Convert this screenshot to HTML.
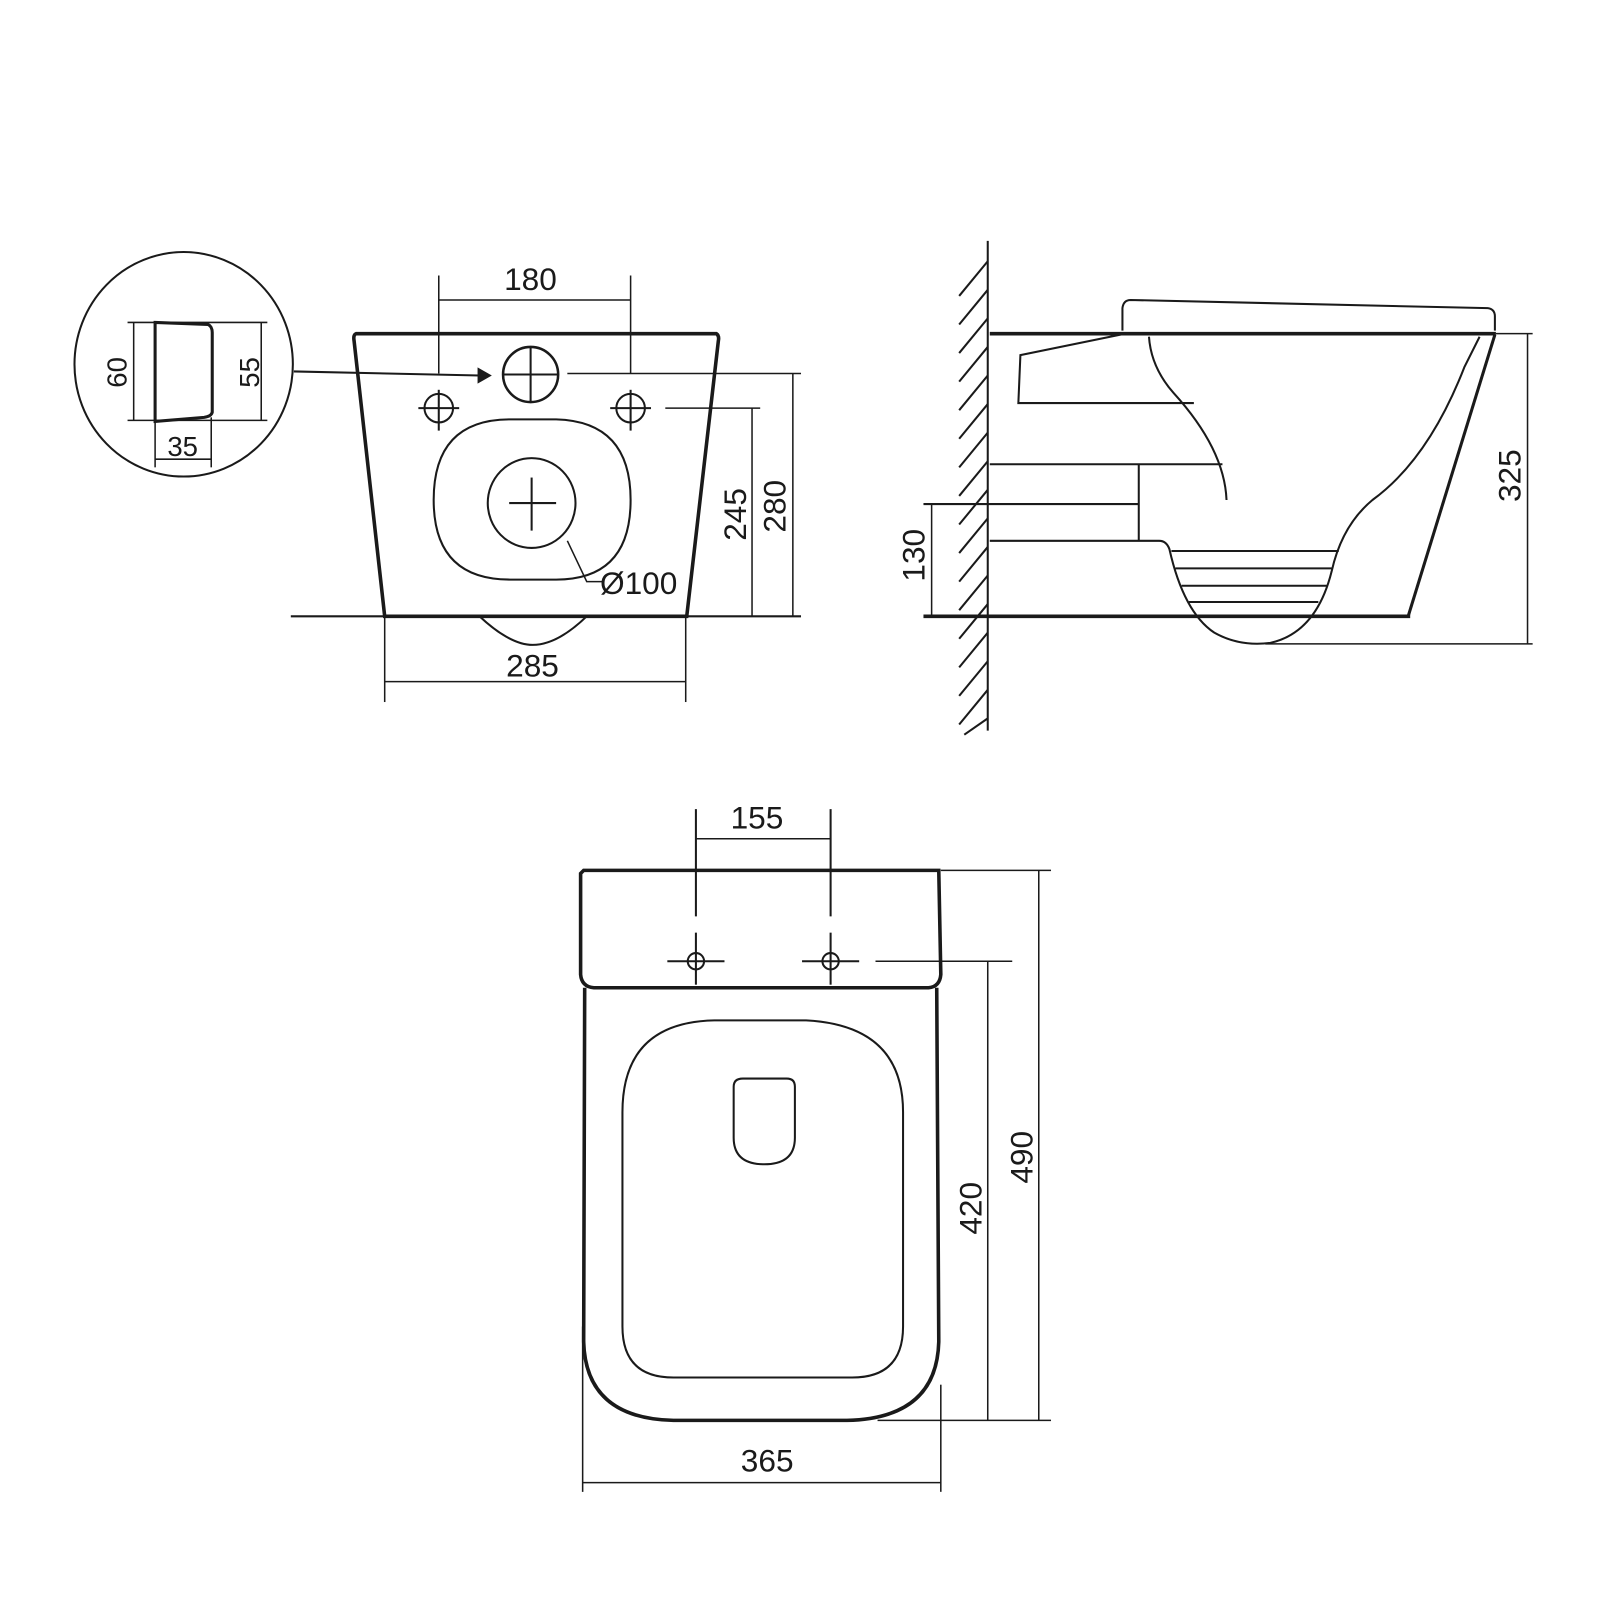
<!DOCTYPE html>
<html><head><style>html,body{margin:0;padding:0;background:#fff;overflow:hidden}svg{display:block}</style></head>
<body>
<svg width="1600" height="1600" viewBox="0 0 1600 1600" xmlns="http://www.w3.org/2000/svg" font-family="Liberation Sans, sans-serif" font-size="31" fill="none" stroke="#1a1a1a">
<g transform="scale(1.0204)">
<!-- Detail circle -->
<ellipse cx="180" cy="357" rx="107" ry="110" stroke-width="2"/>
<path d="M152 316 L204 318 Q208 320 208 326 L208 404 Q207 408 200 409 L152 413 Z" stroke-width="3"/>
<line x1="125" y1="316" x2="262" y2="316" stroke-width="1.5"/>
<line x1="125" y1="412" x2="262" y2="412" stroke-width="1.5"/>
<line x1="131" y1="316" x2="131" y2="412" stroke-width="1.5"/>
<line x1="256" y1="316" x2="256" y2="412" stroke-width="1.5"/>
<line x1="152" y1="413" x2="152" y2="458" stroke-width="1.5"/>
<line x1="207" y1="409" x2="207" y2="458" stroke-width="1.5"/>
<line x1="152" y1="450" x2="207" y2="450" stroke-width="1.5"/>
<g fill="#1a1a1a" stroke="none" font-size="27">
<text transform="translate(124,380) rotate(-90)">60</text>
<text transform="translate(254,380) rotate(-90)">55</text>
<text x="164" y="447">35</text>
</g>
<line x1="288" y1="364" x2="470" y2="368" stroke-width="2"/>
<path d="M482 368 L468 360 L468 376 Z" fill="#1a1a1a" stroke="none"/>

<!-- Front view -->
<path d="M349 327 L702 327 Q705 329 704 334 L673 604 L377 604 L347 334 Q346 328 349 327 Z" stroke-width="3.5"/>
<line x1="285" y1="604" x2="785" y2="604" stroke-width="2"/>
<path d="M470 604 Q500 632 522 632 Q546 632 575 604" stroke-width="2"/>
<circle cx="520" cy="367" r="27" stroke-width="2.5"/>
<line x1="493" y1="367" x2="547" y2="367" stroke-width="2"/><line x1="520" y1="340" x2="520" y2="394" stroke-width="2"/>
<circle cx="430" cy="400" r="14" stroke-width="2"/><circle cx="618" cy="400" r="14" stroke-width="2"/>
<line x1="410" y1="400" x2="450" y2="400" stroke-width="2"/><line x1="598" y1="400" x2="638" y2="400" stroke-width="2"/>
<line x1="430" y1="270" x2="430" y2="366" stroke-width="1.5"/><line x1="430" y1="382" x2="430" y2="422" stroke-width="2"/>
<line x1="618" y1="270" x2="618" y2="366" stroke-width="1.5"/><line x1="618" y1="382" x2="618" y2="422" stroke-width="2"/>
<line x1="430" y1="294" x2="618" y2="294" stroke-width="1.5"/>
<line x1="556" y1="366" x2="785" y2="366" stroke-width="1.5"/>
<line x1="652" y1="400" x2="745" y2="400" stroke-width="1.5"/>
<line x1="777" y1="366" x2="777" y2="604" stroke-width="1.5"/>
<line x1="737" y1="400" x2="737" y2="604" stroke-width="1.5"/>
<path d="M520 411 L545 411 Q618 413 618 490 Q618 568 545 568 L500 568 Q425 568 425 490 Q425 411 500 411 Z" stroke-width="2"/>
<ellipse cx="521" cy="493" rx="43" ry="44" stroke-width="2"/>
<line x1="499" y1="493" x2="545" y2="493" stroke-width="2"/><line x1="521" y1="468" x2="521" y2="520" stroke-width="2"/>
<path d="M556 530 L575 570 L590 570" stroke-width="1.5"/>
<line x1="377" y1="604" x2="377" y2="688" stroke-width="1.5"/><line x1="672" y1="604" x2="672" y2="688" stroke-width="1.5"/>
<line x1="377" y1="668" x2="672" y2="668" stroke-width="1.5"/>
<g fill="#1a1a1a" stroke="none">
<text x="494" y="284">180</text>
<text x="588" y="582">Ø100</text>
<text x="496" y="663">285</text>
<text transform="translate(731,530) rotate(-90)">245</text>
<text transform="translate(770,522) rotate(-90)">280</text>
</g>

<!-- Side view -->
<line x1="968" y1="236" x2="968" y2="716" stroke-width="2"/>
<g stroke-width="2">
<line x1="940" y1="290" x2="968" y2="256"/><line x1="940" y1="318" x2="968" y2="284"/><line x1="940" y1="346" x2="968" y2="312"/>
<line x1="940" y1="374" x2="968" y2="340"/><line x1="940" y1="402" x2="968" y2="368"/><line x1="940" y1="430" x2="968" y2="396"/>
<line x1="940" y1="458" x2="968" y2="424"/><line x1="940" y1="486" x2="968" y2="452"/><line x1="940" y1="514" x2="968" y2="480"/>
<line x1="940" y1="542" x2="968" y2="508"/><line x1="940" y1="570" x2="968" y2="536"/><line x1="940" y1="598" x2="968" y2="564"/>
<line x1="940" y1="626" x2="968" y2="592"/><line x1="940" y1="654" x2="968" y2="620"/><line x1="940" y1="682" x2="968" y2="648"/>
<line x1="940" y1="710" x2="968" y2="676"/><line x1="945" y1="720" x2="968" y2="704"/>
</g>
<line x1="970" y1="327" x2="1466" y2="327" stroke-width="3.5"/>
<path d="M1100 324 L1100 302 Q1101 294 1108 294 L1458 302 Q1465 303 1465 310 L1465 324" stroke-width="2"/>
<path d="M1103 327 L1000 348 L998 395 L1170 395" stroke-width="2"/>
<path d="M1126 330 Q1128 360 1150 385 Q1200 440 1202 490" stroke-width="2"/>
<line x1="970" y1="455" x2="1198" y2="455" stroke-width="2"/>
<line x1="1116" y1="455" x2="1116" y2="530" stroke-width="2"/>
<line x1="905" y1="494" x2="1116" y2="494" stroke-width="2"/>
<path d="M970 530 L1136 530 Q1143 530 1146 538 Q1160 600 1190 620 Q1215 634 1245 630 Q1290 620 1305 560 Q1315 515 1345 490 Q1400 450 1435 360 L1450 330" stroke-width="2"/>
<g stroke-width="2">
<line x1="1148" y1="540" x2="1312" y2="540"/><line x1="1152" y1="557" x2="1305" y2="557"/>
<line x1="1158" y1="574" x2="1300" y2="574"/><line x1="1165" y1="590" x2="1292" y2="590"/>
</g>
<line x1="905" y1="604" x2="1382" y2="604" stroke-width="3.5"/>
<line x1="1380" y1="604" x2="1465" y2="328" stroke-width="3"/>
<line x1="913" y1="494" x2="913" y2="604" stroke-width="1.5"/>
<line x1="1466" y1="327" x2="1502" y2="327" stroke-width="1.5"/>
<line x1="1240" y1="631" x2="1502" y2="631" stroke-width="1.5"/>
<line x1="1497" y1="327" x2="1497" y2="631" stroke-width="1.5"/>
<g fill="#1a1a1a" stroke="none">
<text transform="translate(906,570) rotate(-90)">130</text>
<text transform="translate(1490,492) rotate(-90)">325</text>
</g>

<!-- Top view -->
<path d="M572 853 L920 853 L922 955 Q921 967 910 968 L582 968 Q570 967 569 955 L569 856 Z" stroke-width="3.5"/>
<path d="M573 968 L572 1315 Q574 1390 660 1392 L830 1392 Q918 1390 920 1315 L918 968" stroke-width="3.5"/>
<path d="M700 1000 L790 1000 Q885 1005 885 1090 L885 1300 Q885 1350 835 1350 L660 1350 Q610 1350 610 1300 L610 1090 Q610 1002 700 1000 Z" stroke-width="2"/>
<path d="M728 1057 L771 1057 Q779 1057 779 1065 L779 1115 Q779 1141 749 1141 Q719 1141 719 1115 L719 1065 Q719 1057 728 1057 Z" stroke-width="2"/>
<circle cx="682" cy="942" r="8" stroke-width="2"/><circle cx="814" cy="942" r="8" stroke-width="2"/>
<line x1="654" y1="942" x2="710" y2="942" stroke-width="2"/><line x1="786" y1="942" x2="842" y2="942" stroke-width="2"/>
<line x1="682" y1="793" x2="682" y2="898" stroke-width="2"/><line x1="682" y1="914" x2="682" y2="965" stroke-width="2"/>
<line x1="814" y1="793" x2="814" y2="898" stroke-width="2"/><line x1="814" y1="914" x2="814" y2="965" stroke-width="2"/>
<line x1="682" y1="822" x2="814" y2="822" stroke-width="1.5"/>
<line x1="858" y1="942" x2="992" y2="942" stroke-width="1.5"/>
<line x1="922" y1="853" x2="1030" y2="853" stroke-width="1.5"/>
<line x1="860" y1="1392" x2="1030" y2="1392" stroke-width="1.5"/>
<line x1="968" y1="942" x2="968" y2="1392" stroke-width="1.5"/>
<line x1="1018" y1="853" x2="1018" y2="1392" stroke-width="1.5"/>
<line x1="571" y1="1300" x2="571" y2="1462" stroke-width="1.5"/>
<line x1="922" y1="1357" x2="922" y2="1462" stroke-width="1.5"/>
<line x1="571" y1="1453" x2="922" y2="1453" stroke-width="1.5"/>
<g fill="#1a1a1a" stroke="none">
<text x="716" y="812">155</text>
<text x="726" y="1442">365</text>
<text transform="translate(962,1210) rotate(-90)">420</text>
<text transform="translate(1012,1160) rotate(-90)">490</text>
</g>
</g>
</svg>
</body></html>
